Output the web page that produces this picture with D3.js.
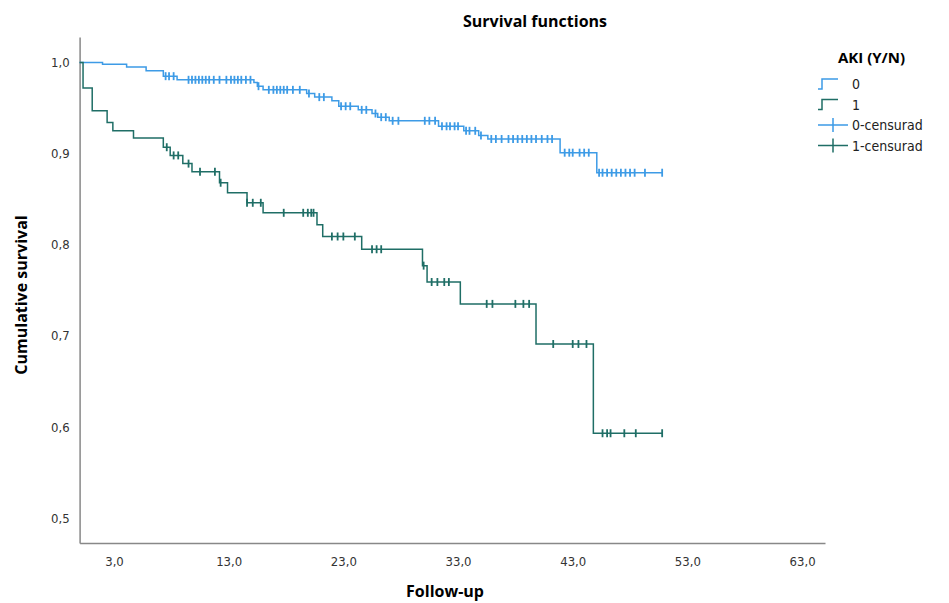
<!DOCTYPE html>
<html><head><meta charset="utf-8">
<script src="https://cdn.jsdelivr.net/npm/d3@7"></script>
<style>body{margin:0;background:#fff}</style>
</head><body><svg id="c" width="949" height="603"></svg>
<script>
// Kaplan-Meier steps: [time, survival]
const stepsNo = [[0,1.0],[2.0,0.998],[4.1,0.995],[5.8,0.991],[7.3,0.985],[8.5,0.981],[15.2,0.978],[15.5,0.974],[16.0,0.970],[19.8,0.966],[20.5,0.962],[22.0,0.958],[22.6,0.952],[24.3,0.948],[25.5,0.944],[26.0,0.940],[27.0,0.936],[31.3,0.930],[33.5,0.925],[34.8,0.920],[35.6,0.916],[41.9,0.901],[45.1,0.879]];
const endNo = 50.8;
const censNo = [7.5,7.8,8.2,9.5,9.8,10.1,10.4,10.7,11.0,11.3,11.7,12.2,12.8,13.2,13.5,13.8,14.1,14.5,14.9,15.6,16.5,16.9,17.2,17.5,17.8,18.1,18.6,19.2,20.0,20.9,21.3,22.8,23.2,23.6,24.6,25.0,25.8,26.3,26.7,27.3,27.8,30.1,30.5,31.0,31.6,32.0,32.3,32.7,33.0,33.7,34.0,34.5,35.0,35.9,36.3,36.8,37.4,37.8,38.2,38.6,39.0,39.4,39.8,40.3,40.8,41.2,42.3,42.7,43.0,43.6,44.0,44.4,45.3,45.6,46.0,46.4,46.8,47.2,47.6,48.0,48.4,49.3,50.8];
const stepsYes = [[0,1.0],[0.3,0.972],[1.1,0.947],[2.4,0.934],[2.9,0.925],[4.7,0.917],[7.3,0.907],[7.9,0.898],[9.0,0.889],[9.8,0.880],[12.2,0.868],[12.9,0.857],[14.6,0.846],[16.0,0.835],[20.7,0.822],[21.2,0.809],[24.6,0.795],[29.9,0.777],[30.3,0.759],[33.2,0.735],[39.8,0.691],[44.8,0.593]];
const endYes = 50.8;
const censYes = [7.6,8.2,8.6,9.5,10.5,11.8,12.3,14.6,15.1,15.8,17.8,19.5,19.9,20.2,20.4,22.0,22.5,23.0,24.0,25.5,25.9,26.3,30.0,30.7,31.2,31.8,32.2,35.5,36.0,38.0,38.7,39.2,41.3,43.0,43.5,44.2,45.6,46.0,46.3,47.5,48.5,50.8];
const xTicks = [3,13,23,33,43,53,63];
const yTicks = [0.5,0.6,0.7,0.8,0.9,1.0];
const legendLabels = ['0','1','0-censurad','1-censurad'];

const cNo = '#3d9be6', cYes = '#1f6e66';
const svg = d3.select('#c');
const x = d3.scaleLinear().domain([0,65]).range([79.6,825]);
const y = d3.scaleLinear().domain([0.4725,1.028]).range([543,37]);
const fmt = d => d3.format('.1f')(d).replace('.', ',');

svg.append('text').attr('x',535).attr('y',27).attr('text-anchor','middle')
  .attr('font-family','Open Sans').attr('font-weight','bold').attr('font-size',16).text('Survival functions');

const gy = svg.append('g').attr('transform','translate(79.6,0)')
  .call(d3.axisLeft(y).tickValues(yTicks).tickFormat(fmt).tickSize(0).tickPadding(10));
const gx = svg.append('g').attr('transform','translate(0,543)')
  .call(d3.axisBottom(x).tickValues(xTicks).tickFormat(fmt).tickSize(0).tickPadding(14));
[gx,gy].forEach(g=>{
  g.select('.domain').attr('stroke','#888').attr('stroke-width',1.5);
  g.selectAll('text').attr('font-family','DejaVu Sans Condensed').attr('font-size',13).attr('fill','#333');
});

svg.append('text').attr('x',445).attr('y',597).attr('text-anchor','middle')
  .attr('font-family','Open Sans').attr('font-weight','bold').attr('font-size',16).text('Follow-up');
svg.append('text').attr('transform','translate(27,295) rotate(-90)').attr('text-anchor','middle')
  .attr('font-family','Open Sans').attr('font-weight','bold').attr('font-size',16).text('Cumulative survival');

function curve(steps, end, cens, col){
  const pts = steps.concat([[end, steps[steps.length-1][1]]]);
  const line = d3.line().x(d=>x(d[0])).y(d=>y(d[1])).curve(d3.curveStepAfter);
  svg.append('path').datum(pts).attr('d',line).attr('fill','none').attr('stroke',col).attr('stroke-width',1.5);
  const surv = t => { let s=1; steps.forEach(d=>{ if(d[0]<=t) s=d[1]; }); return s; };
  svg.append('g').selectAll('line').data(cens).join('line')
    .attr('x1',d=>x(d)).attr('x2',d=>x(d))
    .attr('y1',d=>y(surv(d))-4).attr('y2',d=>y(surv(d))+4)
    .attr('stroke',col).attr('stroke-width',1.8);
}
curve(stepsNo,endNo,censNo,cNo);
curve(stepsYes,endYes,censYes,cYes);

const lg = svg.append('g');
lg.append('text').attr('x',838).attr('y',63).attr('font-family','Open Sans').attr('font-weight','bold')
  .attr('font-size',15).text('AKI (Y/N)');
legendLabels.forEach((lab,i)=>{
  const yy = 84 + i*20.5, col = i%2===0 ? cNo : cYes;
  if(i<2){
    lg.append('path').attr('d',`M818,${yy+5}H822V${yy-5}H838`).attr('fill','none').attr('stroke',col).attr('stroke-width',1.5);
  } else {
    lg.append('path').attr('d',`M818,${yy}H848M833,${yy-7}V${yy+7}`).attr('fill','none').attr('stroke',col).attr('stroke-width',1.5);
  }
  lg.append('text').attr('x',852).attr('y',yy+5).attr('font-family','DejaVu Sans Condensed')
    .attr('font-size',14).attr('fill','#222').text(lab);
});
</script></body></html>
